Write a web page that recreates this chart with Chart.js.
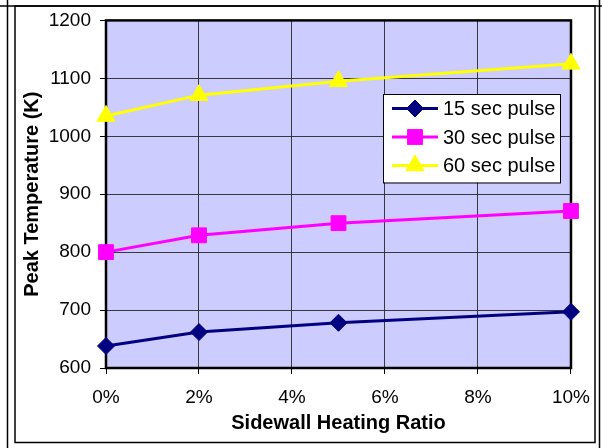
<!DOCTYPE html>
<html>
<head>
<meta charset="utf-8">
<script src="https://cdn.jsdelivr.net/npm/chart.js@4/dist/chart.umd.min.js"></script>
<style>
  html, body { margin: 0; padding: 0; background: #ffffff; }
  #wrap { width: 602px; height: 448px; position: relative; }
</style>
</head>
<body>
<div id="wrap"><canvas id="c" width="602" height="448"></canvas></div>
<script>
// Sidewall heating ratio (fraction) at which peak temperature was computed
const ratios = [0, 0.02, 0.05, 0.10];

// Peak temperature (K) for each pulse length
const pulse15 = [638, 662, 678, 697];
const pulse30 = [800, 829, 850, 871];
const pulse60 = [1035, 1071, 1095, 1125];

const seriesLabels = ['15 sec pulse', '30 sec pulse', '60 sec pulse'];

// Axis ranges and tick steps
const xRange = [0, 0.10];
const xStep = 0.02;
const yRange = [600, 1200];
const yStep = 100;

const xTitle = 'Sidewall Heating Ratio';
const yTitle = 'Peak Temperature (K)';

const FONT = "'Liberation Sans', Arial, sans-serif";

function toPoints(xs, ys) {
  return xs.map((x, i) => ({ x: x, y: ys[i] }));
}

// Draw one marker shape centred at (x, y)
function marker(ctx, style, r, x, y, color) {
  ctx.save();
  ctx.fillStyle = color;
  ctx.strokeStyle = color;
  ctx.lineWidth = 1;
  ctx.beginPath();
  if (style === 'rectRot') {
    ctx.moveTo(x, y - r);
    ctx.lineTo(x + r, y);
    ctx.lineTo(x, y + r);
    ctx.lineTo(x - r, y);
  } else if (style === 'rect') {
    const s = r * Math.SQRT1_2;
    ctx.rect(x - s, y - s, 2 * s, 2 * s);
  } else if (style === 'triangle') {
    ctx.moveTo(x, y - r);
    ctx.lineTo(x + r * Math.sin(Math.PI / 3), y + r / 2);
    ctx.lineTo(x - r * Math.sin(Math.PI / 3), y + r / 2);
  }
  ctx.closePath();
  ctx.fill();
  ctx.stroke();
  ctx.restore();
}

// Plot background, plot frame, outer frame and the in-plot legend
const decor = {
  id: 'decor',
  beforeDraw(chart) {
    const { ctx, chartArea: a } = chart;
    ctx.save();
    ctx.fillStyle = '#ffffff';
    ctx.fillRect(0, 0, chart.width, chart.height);
    ctx.fillStyle = '#CCCCFF';
    ctx.fillRect(a.left, a.top, a.right - a.left, a.bottom - a.top);
    ctx.restore();
  },
  beforeDatasetsDraw(chart) {
    const { ctx, chartArea: a } = chart;
    ctx.save();
    ctx.strokeStyle = '#000000';
    ctx.lineWidth = 2.5;
    ctx.strokeRect(a.left, a.top, a.right - a.left, a.bottom - a.top);
    ctx.restore();
  },
  afterDraw(chart) {
    const { ctx } = chart;
    ctx.save();
    // outer frames
    ctx.strokeStyle = '#000000';
    ctx.lineWidth = 1.5;
    ctx.strokeRect(15, 6, 580, 436.5);
    ctx.beginPath();
    ctx.moveTo(0, 6); ctx.lineTo(602, 6);
    ctx.moveTo(7.5, 0); ctx.lineTo(7.5, 448);
    ctx.moveTo(599.5, 0); ctx.lineTo(599.5, 448);
    ctx.stroke();

    // legend box
    const box = { x: 383, y: 94, w: 177, h: 88.5 };
    ctx.fillStyle = '#ffffff';
    ctx.fillRect(box.x, box.y, box.w, box.h);
    ctx.strokeStyle = '#000000';
    ctx.lineWidth = 1;
    ctx.strokeRect(box.x + 0.5, box.y + 0.5, box.w, box.h);

    const rowY = [108.5, 137, 165.5];
    chart.data.datasets.forEach((ds, i) => {
      const y = rowY[i];
      ctx.strokeStyle = ds.borderColor;
      ctx.lineWidth = ds.borderWidth;
      ctx.beginPath();
      ctx.moveTo(392, y);
      ctx.lineTo(438, y);
      ctx.stroke();
      marker(ctx, ds.pointStyle, ds.pointRadius, 415, y, ds.borderColor);
      ctx.fillStyle = '#000000';
      ctx.font = '20px ' + FONT;
      ctx.textAlign = 'left';
      ctx.textBaseline = 'middle';
      ctx.fillText(ds.label, 443, y + 1);
    });
    ctx.restore();
  }
};

new Chart(document.getElementById('c'), {
  type: 'line',
  data: {
    datasets: [
      {
        label: seriesLabels[0],
        data: toPoints(ratios, pulse15),
        borderColor: '#000080',
        backgroundColor: '#000080',
        borderWidth: 3,
        pointStyle: 'rectRot',
        pointRadius: 8.5,
        pointHoverRadius: 8.5,
        pointBorderWidth: 1,
        clip: false
      },
      {
        label: seriesLabels[1],
        data: toPoints(ratios, pulse30),
        borderColor: '#FF00FF',
        backgroundColor: '#FF00FF',
        borderWidth: 3,
        pointStyle: 'rect',
        pointRadius: 10.5,
        pointHoverRadius: 10.5,
        pointBorderWidth: 1,
        clip: false
      },
      {
        label: seriesLabels[2],
        data: toPoints(ratios, pulse60),
        borderColor: '#FFFF00',
        backgroundColor: '#FFFF00',
        borderWidth: 3,
        pointStyle: 'triangle',
        pointRadius: 10.5,
        pointHoverRadius: 10.5,
        pointBorderWidth: 1,
        clip: false
      }
    ]
  },
  options: {
    responsive: false,
    animation: false,
    events: [],
    layout: { padding: { left: 0, top: 20, right: 28, bottom: 0 } },
    plugins: {
      legend: { display: false },
      title: { display: false },
      tooltip: { enabled: false }
    },
    scales: {
      x: {
        type: 'linear',
        min: xRange[0],
        max: xRange[1],
        afterFit(scale) { scale.height = 80; },
        afterBuildTicks(scale) {
          const t = [];
          for (let v = xRange[0]; v <= xRange[1] + 1e-9; v += xStep) t.push({ value: Math.round(v * 100) / 100 });
          scale.ticks = t;
        },
        border: { display: false },
        grid: {
          color: 'rgba(40,40,40,0.9)',
          lineWidth: 1,
          drawTicks: true,
          tickLength: 6,
          tickColor: '#000000'
        },
        ticks: {
          color: '#000000',
          font: { family: FONT, size: 19 },
          padding: 12,
          maxRotation: 0,
          callback: v => Math.round(v * 100) + '%'
        },
        title: {
          display: true,
          text: xTitle,
          color: '#000000',
          font: { family: FONT, size: 20, weight: 'bold' },
          padding: { top: 0, bottom: 13 }
        }
      },
      y: {
        type: 'linear',
        min: yRange[0],
        max: yRange[1],
        afterFit(scale) { scale.width = 106; },
        border: { display: false },
        grid: {
          color: 'rgba(40,40,40,0.9)',
          lineWidth: 1,
          drawTicks: true,
          tickLength: 6,
          tickColor: '#000000'
        },
        ticks: {
          stepSize: yStep,
          color: '#000000',
          font: { family: FONT, size: 19 },
          padding: 9,
          callback: v => String(v)
        },
        title: {
          display: true,
          text: yTitle,
          color: '#000000',
          font: { family: FONT, size: 20, weight: 'bold' },
          padding: { top: 20, bottom: 0 }
        }
      }
    }
  },
  plugins: [decor]
});
</script>
</body>
</html>
